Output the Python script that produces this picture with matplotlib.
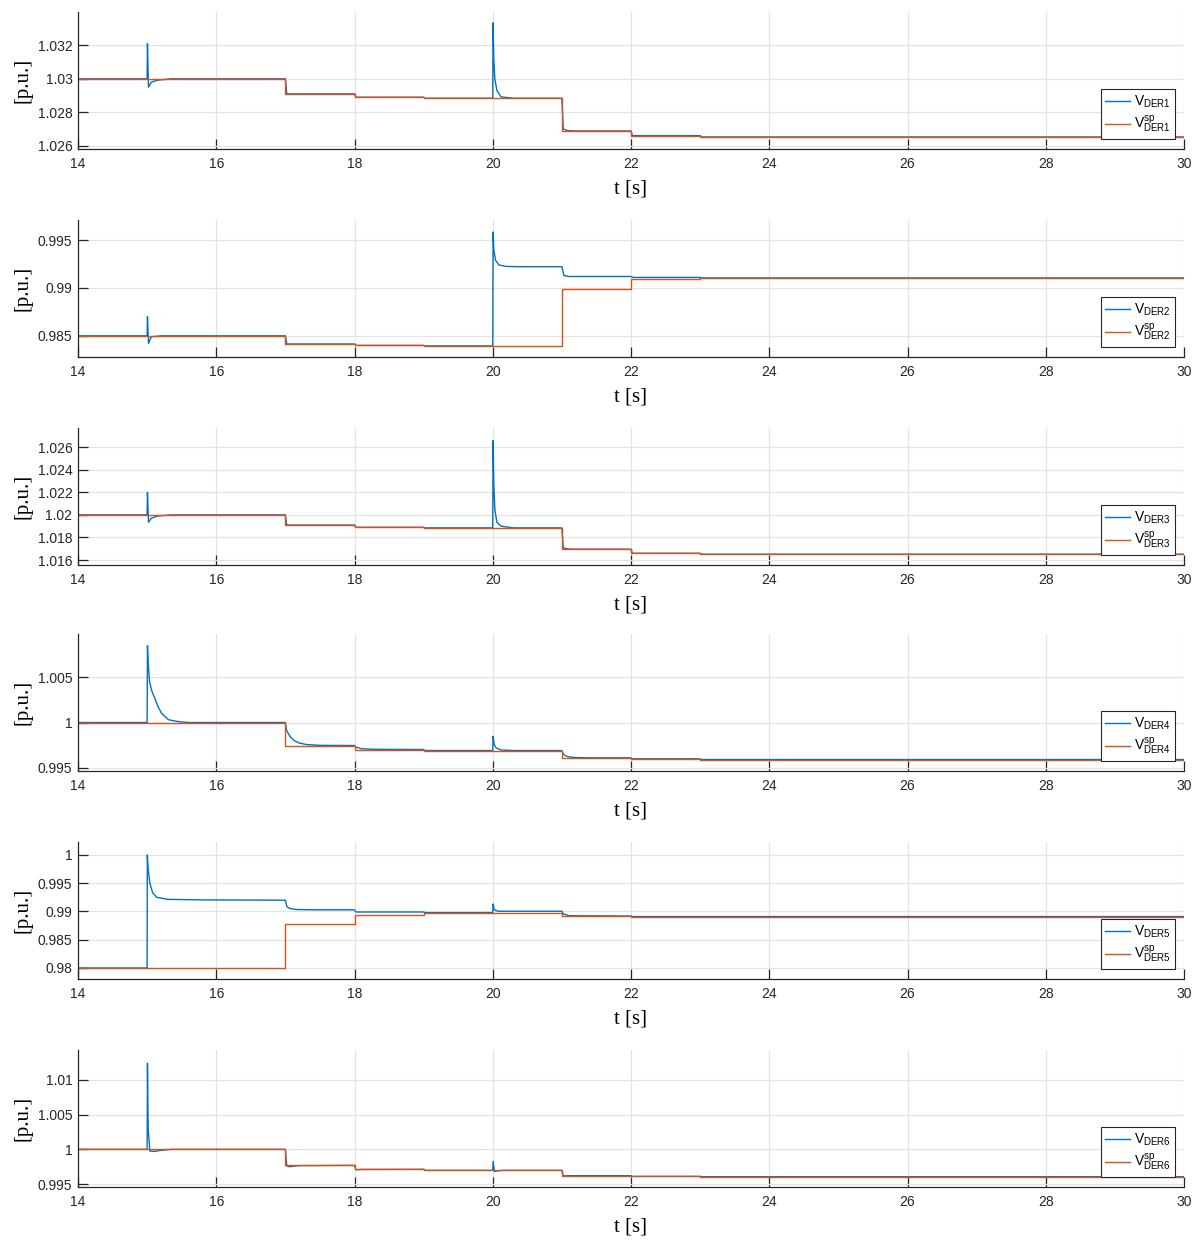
import matplotlib
matplotlib.use("Agg")
import matplotlib.pyplot as plt

plt.rcParams["font.family"] = ["Liberation Sans", "DejaVu Sans"]
plt.rcParams["mathtext.default"] = "regular"

blue = "#0072BD"
orange = "#D95319"

# setpoint step times (shared)
t_sp = [14, 17, 18, 19, 21, 22, 23, 30]

# DER1
t_v1 = [14, 15.0, 15.005, 15.02, 15.06, 15.15, 15.35, 17.0, 17.02, 18.0, 18.02, 19.0, 19.02,
        20.0, 20.005, 20.015, 20.03, 20.06, 20.12, 20.3, 21.0, 21.02, 21.08, 21.2, 22.0, 22.02, 23.0, 23.02, 30]
v1 = [1.0300, 1.0300, 1.0321, 1.02950, 1.02980, 1.02992, 1.0300, 1.0300, 1.02910, 1.02910, 1.02890,
      1.02890, 1.02884, 1.02884, 1.03335, 1.03120, 1.03000, 1.02930, 1.02892, 1.02884, 1.02884, 1.02700,
      1.02690, 1.02688, 1.02688, 1.02660, 1.02660, 1.02652, 1.02652]
sp1 = [1.0300, 1.0291, 1.0289, 1.02884, 1.02688, 1.0266, 1.02652, 1.02652]

# DER2
t_v2 = [14, 15.0, 15.005, 15.02, 15.06, 15.2, 17.0, 17.02, 18.0, 18.02, 19.0, 19.02,
        20.0, 20.005, 20.015, 20.04, 20.09, 20.2, 20.4, 21.0, 21.03, 21.1, 22.0, 22.03, 23.0, 23.03, 30]
v2 = [0.9850, 0.9850, 0.9870, 0.9842, 0.98490, 0.9850, 0.9850, 0.98415, 0.98415, 0.98400, 0.98400,
      0.98395, 0.98395, 0.99585, 0.99400, 0.99290, 0.99240, 0.99225, 0.99222, 0.99222, 0.99130, 0.99120,
      0.99120, 0.99110, 0.99110, 0.99105, 0.99105]
sp2 = [0.9850, 0.98415, 0.98400, 0.98395, 0.98990, 0.99090, 0.99105, 0.99105]

# DER3
t_v3 = t_v1
v3 = [1.0200, 1.0200, 1.0220, 1.01935, 1.0197, 1.01990, 1.0200, 1.0200, 1.0191, 1.0191, 1.0189,
      1.0189, 1.01885, 1.01885, 1.0266, 1.0228, 1.0205, 1.01935, 1.0190, 1.01885, 1.01885, 1.0171,
      1.01698, 1.01696, 1.01696, 1.0166, 1.0166, 1.01652, 1.01652]
sp3 = [1.0200, 1.0191, 1.0189, 1.01885, 1.01696, 1.0166, 1.01652, 1.01652]

# DER4
t_v4 = [14, 15.0, 15.005, 15.015, 15.035, 15.07, 15.11, 15.16, 15.21, 15.31, 15.45, 15.6,
        17.0, 17.015, 17.04, 17.08, 17.13, 17.2, 17.3, 17.5, 18.0, 18.02, 18.1, 18.3,
        19.0, 19.02, 20.0, 20.005, 20.02, 20.05, 20.12, 20.3,
        21.0, 21.02, 21.05, 21.1, 21.2, 21.4, 22.0, 22.02, 23.0, 23.02, 30]
v4 = [1.0000, 1.0000, 1.00846, 1.0066, 1.0045, 1.0034, 1.0027, 1.0017, 1.0010, 1.0003, 1.0001, 1.0000,
      1.0000, 0.99920, 0.99880, 0.99835, 0.99800, 0.99775, 0.99758, 0.99749, 0.99747, 0.99730, 0.99712, 0.99705,
      0.99703, 0.99692, 0.99692, 0.99849, 0.99760, 0.99720, 0.99698, 0.99692,
      0.99692, 0.99655, 0.99635, 0.99622, 0.99615, 0.99612, 0.99612, 0.99601, 0.99601, 0.99593, 0.99593]
sp4 = [1.0000, 0.99747, 0.99703, 0.99692, 0.99612, 0.99601, 0.99593, 0.99593]

# DER5
t_v5 = [14, 15.0, 15.003, 15.015, 15.04, 15.08, 15.14, 15.3, 15.8, 17.0, 17.02, 17.06, 17.15, 17.4,
        18.0, 18.02, 19.0, 19.02, 20.0, 20.005, 20.02, 20.08, 21.0, 21.02, 21.1, 22.0, 22.02, 30]
v5 = [0.9800, 0.9800, 1.0000, 0.99750, 0.99500, 0.99330, 0.99250, 0.99215, 0.99205, 0.99200, 0.99090,
      0.99055, 0.99035, 0.99030, 0.99030, 0.98991, 0.98991, 0.98980, 0.98980, 0.99133, 0.99030,
      0.99004, 0.99004, 0.98960, 0.98925, 0.98920, 0.98910, 0.98910]
sp5 = [0.9800, 0.98779, 0.98938, 0.98968, 0.98920, 0.98910, 0.98910, 0.98910]

# DER6
t_v6 = [14, 15.0, 15.005, 15.015, 15.04, 15.1, 15.2, 15.35, 17.0, 17.02, 17.06, 17.2, 18.0, 18.02, 18.1,
        19.0, 19.02, 20.0, 20.005, 20.025, 20.06, 20.15, 21.0, 21.02, 21.08, 22.0, 22.02, 23.0, 23.02, 30]
v6 = [1.0000, 1.0000, 1.0124, 1.0030, 0.99975, 0.99970, 0.99985, 1.0000, 1.0000, 0.99760, 0.99750, 0.99765,
      0.99769, 0.99705, 0.99710, 0.99712, 0.99697, 0.99697, 0.99827, 0.99680, 0.99688, 0.99697,
      0.99697, 0.99615, 0.99620, 0.99620, 0.99610, 0.99610, 0.99605, 0.99605]
sp6 = [1.0000, 0.99769, 0.99712, 0.99697, 0.99620, 0.99610, 0.99605, 0.99605]

panels = [
    ("DER1", t_v1, v1, sp1, (1.0258, 1.0340), [1.026, 1.028, 1.030, 1.032], ["1.026", "1.028", "1.03", "1.032"]),
    ("DER2", t_v2, v2, sp2, (0.98279, 0.9971), [0.985, 0.990, 0.995], ["0.985", "0.99", "0.995"]),
    ("DER3", t_v3, v3, sp3, (1.01556, 1.0277), [1.016, 1.018, 1.020, 1.022, 1.024, 1.026],
     ["1.016", "1.018", "1.02", "1.022", "1.024", "1.026"]),
    ("DER4", t_v4, v4, sp4, (0.99467, 1.00973), [0.995, 1.000, 1.005], ["0.995", "1", "1.005"]),
    ("DER5", t_v5, v5, sp5, (0.97805, 1.0023), [0.980, 0.985, 0.990, 0.995, 1.000],
     ["0.98", "0.985", "0.99", "0.995", "1"]),
    ("DER6", t_v6, v6, sp6, (0.99457, 1.01432), [0.995, 1.000, 1.005, 1.010], ["0.995", "1", "1.005", "1.01"]),
]

fig = plt.figure(figsize=(11.99, 12.43), dpi=100)
W, H = 1199, 1243
tops = [12, 220, 428, 634, 842, 1050]
ax_h = 137
xt = list(range(14, 31, 2))

for (name, tv, v, sp, ylim, yt, ytl), top in zip(panels, tops):
    ax = fig.add_axes([78 / W, 1 - (top + ax_h) / H, 1106 / W, ax_h / H])
    ax.plot(tv, v, color=blue, lw=1.0, label=r"V$_{%s}$" % name)
    ax.plot(t_sp, sp, color=orange, lw=1.0, drawstyle="steps-post", label=r"V$^{sp}_{%s}$" % name)
    ax.set_xlim(14, 30)
    ax.set_ylim(*ylim)
    ax.set_xticks(xt)
    ax.set_xticklabels([str(x) for x in xt])
    ax.set_yticks(yt)
    ax.set_yticklabels(ytl)
    ax.grid(True, color="#e3e3e3", lw=0.9)
    ax.set_axisbelow(True)
    for s in ("top", "right"):
        ax.spines[s].set_visible(False)
    for s in ("left", "bottom"):
        ax.spines[s].set_color("#262626")
        ax.spines[s].set_linewidth(0.9)
    ax.tick_params(direction="in", length=7.5, width=0.9, colors="#262626", labelsize=10, pad=4)
    ax.tick_params(axis="x", pad=6)
    ax.set_xlabel("t [s]", family=["Liberation Serif"], fontsize=15, labelpad=6)
    ax.set_ylabel("[p.u.]", family=["Liberation Serif"], fontsize=15, labelpad=4)
    leg = ax.legend(loc="lower right", bbox_to_anchor=(0.992, 0.07), borderaxespad=0,
                    fontsize=10, fancybox=False, framealpha=1, edgecolor="#262626",
                    handlelength=1.8, handletextpad=0.3, labelspacing=0.3, borderpad=0.3)
    leg.get_frame().set_linewidth(0.8)

fig.savefig("out.png", dpi=100)
